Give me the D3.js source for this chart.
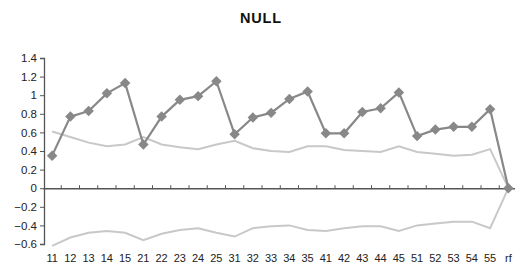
<!DOCTYPE html>
<html><head><meta charset="utf-8">
<script src="https://cdn.jsdelivr.net/npm/d3@7"></script>
<style>body{margin:0;background:#fff}svg{display:block}</style>
</head><body><svg id="c" width="515" height="266"></svg>
<script>
const categories = ["11","12","13","14","15","21","22","23","24","25","31","32","33","34","35","41","42","43","44","45","51","52","53","54","55","rf"];
const seriesMain = [0.35,0.77,0.83,1.02,1.13,0.47,0.77,0.95,0.99,1.15,0.58,0.76,0.81,0.96,1.04,0.59,0.59,0.82,0.86,1.03,0.56,0.63,0.66,0.66,0.85,0];
const seriesUpper = [0.61,0.55,0.49,0.45,0.47,0.55,0.47,0.44,0.42,0.47,0.51,0.43,0.40,0.39,0.45,0.45,0.41,0.40,0.39,0.45,0.39,0.37,0.35,0.36,0.42,0];
const seriesLower = [-0.62,-0.53,-0.48,-0.46,-0.48,-0.56,-0.49,-0.45,-0.43,-0.48,-0.52,-0.43,-0.41,-0.40,-0.45,-0.46,-0.43,-0.41,-0.41,-0.46,-0.40,-0.38,-0.36,-0.36,-0.43,0];
const yTicks = [-0.6,-0.4,-0.2,0,0.2,0.4,0.6,0.8,1,1.2,1.4];
const title = "NULL";

const svg = d3.select("#c");
const font = "Liberation Sans, Arial, sans-serif";
const x = d3.scaleBand().domain(categories).range([43, 43 + 26*18.25]);
const y = d3.scaleLinear().domain([-0.6, 1.4]).range([244, 58]);
const cx = d => x(d) + x.bandwidth()/2;

svg.append("text").attr("x", 261).attr("y", 23).attr("text-anchor","middle")
  .attr("font-family", font).attr("font-weight","bold").attr("font-size", 14.5)
  .attr("letter-spacing", 0.8).attr("fill","#111").text(title);

// y axis
const ya = svg.append("g").attr("transform","translate(44,0)")
  .call(d3.axisLeft(y).tickValues(yTicks).tickSize(4).tickPadding(3).tickFormat(d => d3.format("")(+d.toFixed(1))));
ya.select(".domain").attr("stroke","#555").attr("stroke-width",1.3);
ya.selectAll(".tick line").attr("stroke","#555");
ya.selectAll("text").attr("font-family", font).attr("font-size", 11.5).attr("fill","#222");

// zero axis with ticks between categories
const xa = svg.append("g").attr("transform",`translate(0,${y(0)})`)
  .call(d3.axisBottom(x).tickSize(0).tickFormat(""));
xa.select(".domain").attr("stroke","#555").attr("stroke-width",1.5);
svg.append("g").selectAll("line").data(categories.slice(0,-1)).join("line")
  .attr("x1", d => x(d) + x.bandwidth()).attr("x2", d => x(d) + x.bandwidth())
  .attr("y1", y(0) - 3).attr("y2", y(0)).attr("stroke","#555");

// category labels at bottom
svg.append("g").selectAll("text").data(categories).join("text")
  .attr("x", d => cx(d)).attr("y", 262).attr("text-anchor","middle")
  .attr("font-family", font).attr("font-size", 11).attr("fill","#222").text(d => d);

const line = d3.line().x((d,i) => cx(categories[i])).y(d => y(d));
svg.append("path").datum(seriesUpper).attr("d", line).attr("fill","none").attr("stroke","#c8c8c8").attr("stroke-width",2);
svg.append("path").datum(seriesLower).attr("d", line).attr("fill","none").attr("stroke","#c8c8c8").attr("stroke-width",2);
svg.append("path").datum(seriesMain).attr("d", line).attr("fill","none").attr("stroke","#888").attr("stroke-width",2.2);
svg.append("g").selectAll("path").data(seriesMain).join("path")
  .attr("d", d3.symbol().type(d3.symbolDiamond2).size(70))
  .attr("transform", (d,i) => `translate(${cx(categories[i])},${y(d)})`)
  .attr("fill","#888");
</script></body></html>
